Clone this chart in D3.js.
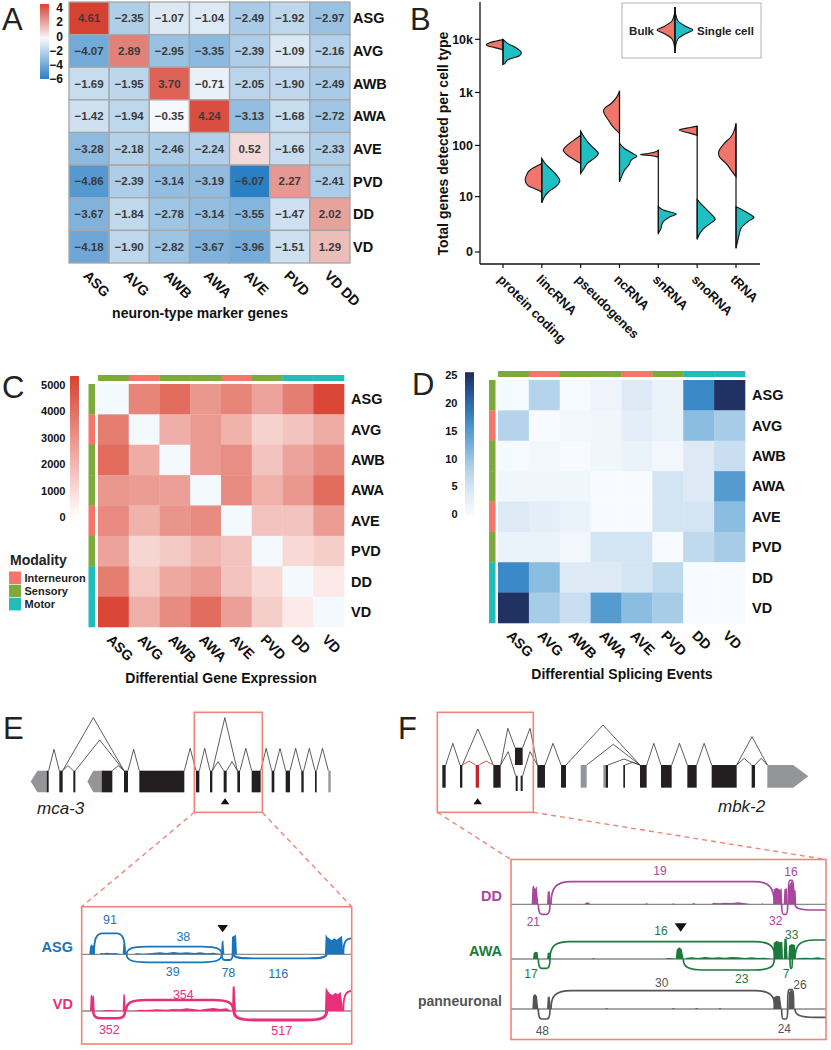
<!DOCTYPE html>
<html><head><meta charset="utf-8">
<script src="https://cdn.jsdelivr.net/npm/d3@7"></script>
<style>body{margin:0;background:#fff}svg{display:block}text{font-family:"Liberation Sans",Arial,Helvetica,sans-serif}</style>
</head><body><svg id="c" width="831" height="1050"></svg>
<script>
// ================= DATA =================
// Panel A
const neuronTypes = ["ASG","AVG","AWB","AWA","AVE","PVD","DD","VD"];
const markerGenes = ["ASG","AVG","AWB","AWA","AVE","PVD","VD DD"];
const markerScores = [
  [4.61,-2.35,-1.07,-1.04,-2.49,-1.92,-2.97],
  [-4.07,2.89,-2.95,-3.35,-2.39,-1.09,-2.16],
  [-1.69,-1.95,3.70,-0.71,-2.05,-1.90,-2.49],
  [-1.42,-1.94,-0.35,4.24,-3.13,-1.68,-2.72],
  [-3.28,-2.18,-2.46,-2.24,0.52,-1.66,-2.33],
  [-4.86,-2.39,-3.14,-3.19,-6.07,2.27,-2.41],
  [-3.67,-1.84,-2.78,-3.14,-3.55,-1.47,2.02],
  [-4.18,-1.90,-2.82,-3.67,-3.96,-1.51,1.29]
];
const scoreTicks = [4,2,0,-2,-4,-6];

// Panel B  ([genes detected, density])
const rnaTypes = ["protein coding","lincRNA","pseudogenes","ncRNA","snRNA","snoRNA","tRNA"];
const geneTicks = [0,10,100,1000,10000];
const geneTickLabels = ["0","10","100","1k","10k"];
const bulkDensity = [
  [[9860,0],[9300,20],[8650,40],[7940,50],[7500,45],[6980,25],[6490,5],[6210,0]],
  [[45.2,0],[32.7,38],[26.9,46],[21.5,50],[17.1,43],[14.7,23],[12.6,3],[11.6,0]],
  [[156,0],[126,20],[101,40],[81.3,52],[65.4,40],[54,20],[45.2,0]],
  [[1071,0],[826,8],[619,25],[499,45],[432,48],[348,40],[280,30],[226,20],[181,5],[168,0]],
  [[81.3,0],[75.6,8],[70.3,30],[67.2,54],[63.4,20],[59.8,0]],
  [[232,0],[219,20],[195,54],[176,30],[156,0]],
  [[261,0],[195,5],[146,15],[109,35],[75.6,52],[60.7,50],[45.2,30],[33.7,15],[25,0]]
];
const singleCellDensity = [
  [[10000,0],[8300,15],[7180,35],[6210,50],[5620,55],[4860,48],[4460,30],[4030,12],[3490,5],[3340,0]],
  [[56.4,0],[45.2,10],[36.2,25],[29.0,40],[20.9,54],[15.9,42],[12.6,20],[9.9,8],[7.4,0]],
  [[186,0],[146,10],[109,25],[87.5,40],[70.3,53],[56.4,40],[45.2,20],[36.2,10],[29,0]],
  [[109,0],[87.5,15],[70.3,40],[62.5,52],[52.4,35],[42,28],[33.7,15],[26.9,8],[19.9,0]],
  [[6.1,0],[5.15,15],[4.17,54],[3.61,35],[2.71,15],[2.21,10],[1.78,8],[1.24,0]],
  [[8.75,0],[7.2,10],[5.6,25],[3.95,45],[3.11,54],[2.45,40],[1.78,20],[1.24,8],[0.73,0]],
  [[6.1,0],[5.15,20],[3.95,45],[3.48,54],[2.71,35],[1.78,15],[0.94,8],[0.17,0]]
];
const seriesNames = ["Bulk","Single cell"];

// Panels C, D
const cellTypes = ["ASG","AVG","AWB","AWA","AVE","PVD","DD","VD"];
const modality = ["Sensory","Interneuron","Sensory","Sensory","Interneuron","Sensory","Motor","Motor"];
const modalityNames = ["Interneuron","Sensory","Motor"];
const degCounts = [
  [0,3330,4030,2790,3330,2440,3530,5150],
  [3560,0,2120,2710,1970,1060,1470,2180],
  [4030,2180,0,2710,3060,1470,2440,3150],
  [2790,2650,2560,0,3150,2030,2790,4030],
  [3180,1970,2850,3150,0,1470,1470,2620],
  [2440,940,1350,1880,1470,0,850,1200],
  [3560,1350,2290,2710,1470,850,0,350],
  [5150,2060,3120,4030,2560,1200,350,0]
];
const degTicks = [0,1000,2000,3000,4000,5000];
const splicingEvents = [
  [0.3,8,0.3,1.5,4,2,17,25],
  [8,0,1,1.2,3,2,11,9],
  [0.3,1,0,1.2,2,1,4,6],
  [1.2,1.2,1.2,0,0,5,4,15],
  [4,3,2,0,0,5,5,11],
  [2,2,1,5,5,0,7,9],
  [17,11,4,4,5,7,0,0],
  [25,9,6,15,11,9,0,0]
];
const splicingTicks = [0,5,10,15,20,25];

// Panel E: mca-3 gene model (genomic units)
const exonsE = [[140,146],[178,188],[220,226],[305,337],[372,384],[418,553],[588,598],[630,637],[671,680],[712,720],[755,782],[815,823],[857,870],[904,911],[945,950]];
const utrE = [{s:92,e:140,dir:-1},{s:262,e:305,dir:-1},{s:985,e:992,dir:0}];
const intronsE = [[146,178,133],[188,220,182],[188,372,38],[226,372,105],[337,372,182],[384,418,133],[553,588,130],[598,630,130],[637,671,170],[680,712,170],[637,712,38],[720,755,130],[782,815,130],[823,857,130],[870,904,130],[911,945,130],[950,985,130]];
const skippedE = 675;
const zoomE = [583,787];
// sashimi E
const sashimiE = [
  {name:"ASG", color:"#1b75bb",
   coverage:[[20,0],[28,0],[30,22],[34,30],[38,26],[42,28],[44,0],[60,0],[62,4],[70,3],[80,5],[95,3],[105,4],[118,2],[126,0],[128,0],[130,30],[134,32],[138,0],[160,0],[170,3],[190,2],[215,4],[240,6],[260,4],[280,7],[300,5],[320,6],[345,4],[360,6],[380,3],[400,5],[418,2],[423,0],[425,38],[430,42],[433,0],[455,0],[456,52],[462,56],[468,58],[471,0],[600,0],[735,0],[737,60],[742,52],[750,46],[756,42],[762,48],[770,44],[778,50],[786,56],[790,0],[825,0]],
   junctions:[{s:42,e:135,n:91,side:1,h:63,lx:90,ly:45},{s:140,e:425,n:38,side:1,h:23,lx:310,ly:95},{s:140,e:425,n:39,side:-1,h:24,lx:278,ly:200},{s:425,e:458,n:78,side:-1,h:17,lx:445,ly:202},{s:460,e:740,n:116,side:-1,h:12,lx:595,ly:205},{s:790,e:880,side:1,h:48}]},
  {name:"VD", color:"#e8307a",
   coverage:[[20,0],[30,0],[32,45],[35,50],[38,42],[42,48],[44,0],[60,0],[80,3],[100,2],[126,0],[128,0],[130,48],[134,52],[138,0],[160,0],[180,4],[200,3],[230,5],[260,4],[280,6],[300,5],[320,8],[340,6],[360,4],[380,7],[400,9],[420,6],[440,8],[454,0],[456,0],[458,72],[464,75],[468,0],[735,0],[737,72],[742,62],[750,52],[758,48],[766,55],[774,50],[782,58],[790,0],[825,0]],
   junctions:[{s:40,e:135,n:352,side:-1,h:22,lx:88,ly:375},{s:138,e:460,n:354,side:1,h:33,lx:310,ly:268},{s:462,e:740,n:517,side:-1,h:27,lx:605,ly:378},{s:790,e:880,side:1,h:60}]}
];
const sashimiEBase = [148,318];
const markerE = 428;

// Panel F: mbk-2 gene model
const exonsF = [{s:37,e:47},{s:90,e:97},{s:137,e:147,t:"red"},{s:190,e:212},{s:255,e:278,lv:1},{s:257,e:263,lv:-1},{s:272,e:278,lv:-1},{s:322,e:345},{s:393,e:408},{s:452,e:470,t:"gray"},{s:520,e:527,t:"gray"},{s:527,e:534},{s:580,e:585},{s:630,e:650},{s:693,e:725},{s:772,e:800},{s:845,e:920},{s:965,e:975}];
const utrF = [{s:1012,e:1135,dir:1}];
const intronsF = [[47,90,115],[97,190,72],[97,137,168,"red"],[147,190,168,"red"],[212,255,70,0,1],[212,257,140,0,-1],[278,322,70,1,0],[278,322,140,-1,0],[345,393,115],[408,630,60],[470,630,118],[534,630,162],[585,630,172],[650,693,115],[725,772,115],[800,845,115],[920,1012,95],[920,965,160],[975,1012,160]];
const skippedF = 143;
const zoomF = [22,310];
const sashimiF = [
  {name:"DD", color:"#a8479d",
   coverage:[[18,0],[80,0],[82,50],[86,58],[90,45],[95,55],[100,0],[126,0],[128,38],[134,40],[138,0],[238,0],[242,5],[250,6],[256,0],[420,0],[425,4],[430,0],[500,0],[505,3],[510,0],[560,0],[565,4],[575,0],[620,0],[625,5],[640,3],[660,5],[680,4],[700,6],[720,3],[740,0],[770,0],[772,4],[775,0],[805,0],[806,45],[815,50],[825,44],[830,48],[832,0],[836,0],[838,45],[846,48],[848,0],[850,0],[852,55],[858,68],[862,70],[866,45],[872,40],[874,0],[960,0]],
   junctions:[{s:100,e:135,n:21,side:-1,h:30,lx:85,ly:200},{s:138,e:808,n:19,side:1,h:68,lx:465,ly:48},{s:830,e:848,n:32,side:-1,h:30,lx:812,ly:198},{s:850,e:866,n:16,side:1,h:72,lx:858,ly:50},{s:870,e:1100,side:-1,h:17}]},
  {name:"AWA", color:"#1d7a3d",
   coverage:[[18,0],[84,0],[86,18],[92,22],[98,20],[100,0],[126,0],[128,18],[134,20],[136,0],[260,0],[265,3],[270,0],[480,0],[490,3],[500,2],[512,0],[515,28],[522,35],[530,30],[536,0],[540,0],[545,4],[560,5],[580,3],[600,6],[620,4],[640,5],[660,4],[680,6],[700,5],[720,3],[740,5],[760,3],[780,4],[800,0],[805,0],[806,48],[815,55],[825,50],[832,52],[834,0],[836,0],[838,60],[845,62],[848,0],[850,0],[852,40],[860,45],[870,42],[872,0],[880,3],[900,4],[920,3],[940,5],[960,0]],
   junctions:[{s:100,e:135,n:17,side:-1,h:28,lx:78,ly:355},{s:135,e:810,n:16,side:1,h:52,lx:468,ly:228},{s:535,e:808,n:23,side:-1,h:33,lx:710,ly:372},{s:855,e:862,n:7,side:-1,h:28,lx:843,ly:357},{s:870,e:1100,n:33,side:1,h:57,lx:860,ly:238}]},
  {name:"panneuronal", color:"#555555",
   coverage:[[18,0],[82,0],[84,40],[90,45],[96,38],[100,0],[126,0],[128,35],[134,38],[138,0],[300,0],[305,3],[310,0],[500,0],[505,3],[510,0],[570,0],[575,4],[580,0],[640,0],[645,3],[650,0],[805,0],[806,35],[815,40],[825,38],[830,0],[850,0],[852,50],[858,58],[864,52],[866,0],[960,0]],
   junctions:[{s:100,e:135,n:48,side:-1,h:30,lx:112,ly:528},{s:138,e:810,n:30,side:1,h:55,lx:470,ly:382},{s:830,e:848,n:24,side:-1,h:30,lx:838,ly:522},{s:848,e:866,n:26,side:1,h:58,lx:885,ly:388},{s:870,e:1100,side:-1,h:25}]}
];
const sashimiFBase = [148,312,462];
const markerF = 527;

// ================= DRAW =================
const svg = d3.select("#c");
const defs = svg.append("defs");

function panelLetter(t,x,y){ svg.append("text").attr("x",x).attr("y",y).attr("font-size",31).attr("fill","#222").text(t); }
function rotLabels(g, labels, xpos, y0, size){
  labels.forEach(l => g.append("text")
    .attr("transform",`translate(${xpos(l)},${y0}) rotate(45)`)
    .attr("dy","0.35em").attr("font-size",size).attr("font-weight","bold").attr("fill","#111").text(l));
}
function vGradient(id, scale, lo, hi){
  const lg = defs.append("linearGradient").attr("id",id).attr("x1",0).attr("x2",0).attr("y1",1).attr("y2",0);
  d3.range(0,1.0001,0.05).forEach(t => lg.append("stop").attr("offset",t).attr("stop-color",scale(lo+(hi-lo)*t)));
}

// ---------- Panel A ----------
panelLetter("A",2,30);
const gA = svg.append("g");
const xA = d3.scaleBand().domain(markerGenes).range([69,350]);
const yA = d3.scaleBand().domain(neuronTypes).range([2,263]);
const colA = d3.scaleLinear().domain([-6.1,-0.3,4.65]).range(["#2a7fc4","#f7f9fc","#d73f30"]);
const fmtA = d3.format(".2f");
neuronTypes.forEach((r,i) => markerGenes.forEach((c,j) => {
  const v = markerScores[i][j];
  gA.append("rect").attr("x",xA(c)).attr("y",yA(r)).attr("width",xA.bandwidth()).attr("height",yA.bandwidth())
    .attr("fill",colA(v)).attr("stroke","#a6a6a6").attr("stroke-width",1.3);
  gA.append("text").attr("x",xA(c)+xA.bandwidth()/2).attr("y",yA(r)+yA.bandwidth()/2).attr("dy","0.35em")
    .attr("text-anchor","middle").attr("font-size",11.5).attr("font-weight","bold").attr("fill","#3b3b3b").text(fmtA(v));
}));
neuronTypes.forEach(r => gA.append("text").attr("x",353).attr("y",yA(r)+yA.bandwidth()/2).attr("dy","0.35em")
  .attr("font-size",14.5).attr("font-weight","bold").attr("fill","#111").text(r));
rotLabels(gA, markerGenes, c => xA(c)+xA.bandwidth()/2-3, 273, 14);
gA.append("text").attr("x",200).attr("y",318).attr("text-anchor","middle").attr("font-size",14).attr("font-weight","bold").attr("fill","#111").text("neuron-type marker genes");
const cbA = d3.scaleLinear().domain([-6,4]).range([79,8]);
vGradient("gA", colA, -6.07, 4.56);
gA.append("rect").attr("x",40).attr("y",cbA(4.56)).attr("width",9).attr("height",cbA(-6)-cbA(4.56)).attr("fill","url(#gA)");
const fmtTick = d3.format("d");
scoreTicks.forEach(t => gA.append("text").attr("x",63).attr("y",cbA(t)).attr("dy","0.35em").attr("text-anchor","end")
  .attr("font-size",12).attr("font-weight","bold").attr("fill","#111").text(fmtTick(t)));

// ---------- Panel B ----------
panelLetter("B",410,30);
const gB = svg.append("g");
const xB = d3.scalePoint().domain(rnaTypes).range([503,736]);
const yB = d3.scaleSymlog().constant(1).domain([0,10000]).range([252,39.3]);
const wB = d3.scaleLinear().domain([0,54]).range([0,18]);
const bulkCol = "#f0766b", scCol = "#1fbfc4";
gB.append("line").attr("x1",480).attr("x2",480).attr("y1",2).attr("y2",264).attr("stroke","#111").attr("stroke-width",1.3);
gB.append("line").attr("x1",480).attr("x2",760).attr("y1",264).attr("y2",264).attr("stroke","#111").attr("stroke-width",1.3);
geneTicks.forEach((t,i) => {
  gB.append("line").attr("x1",475).attr("x2",480).attr("y1",yB(t)).attr("y2",yB(t)).attr("stroke","#111").attr("stroke-width",1.2);
  gB.append("text").attr("x",473).attr("y",yB(t)).attr("dy","0.35em").attr("text-anchor","end").attr("font-size",12.5).attr("font-weight","bold").attr("fill","#111").text(geneTickLabels[i]);
});
rnaTypes.forEach(c => gB.append("line").attr("x1",xB(c)).attr("x2",xB(c)).attr("y1",264).attr("y2",268).attr("stroke","#111").attr("stroke-width",1.2));
rotLabels(gB, rnaTypes, c => xB(c)-3, 277, 13);
gB.append("text").attr("transform","translate(443,143.5) rotate(-90)").attr("text-anchor","middle").attr("dy","0.35em")
  .attr("font-size",14).attr("font-weight","bold").attr("fill","#111").text("Total genes detected per cell type");
const curveV = d3.curveCatmullRom.alpha(0.5);
rnaTypes.forEach((c,i) => {
  const cx = xB(c);
  const all = bulkDensity[i].concat(singleCellDensity[i]).map(d=>d[0]);
  const bulkArea = d3.area().curve(curveV).y(d=>yB(d[0])).x0(cx).x1(d=>cx-wB(d[1]));
  const scArea = d3.area().curve(curveV).y(d=>yB(d[0])).x0(cx).x1(d=>cx+wB(d[1]));
  gB.append("path").attr("d",bulkArea(bulkDensity[i])).attr("fill",bulkCol).attr("stroke","#111").attr("stroke-width",1.1);
  gB.append("path").attr("d",scArea(singleCellDensity[i])).attr("fill",scCol).attr("stroke","#111").attr("stroke-width",1.1);
  gB.append("line").attr("x1",cx).attr("x2",cx).attr("y1",yB(d3.max(all))).attr("y2",yB(d3.min(all))).attr("stroke","#111").attr("stroke-width",1.2);
});
// legend
gB.append("rect").attr("x",622).attr("y",3).attr("width",139).attr("height",55).attr("fill","#fff").attr("stroke","#b0b0b0").attr("stroke-width",1);
gB.append("text").attr("x",654).attr("y",31).attr("dy","0.35em").attr("text-anchor","end").attr("font-size",11.5).attr("font-weight","bold").attr("fill","#222").text(seriesNames[0]);
gB.append("text").attr("x",697).attr("y",31).attr("dy","0.35em").attr("font-size",11.5).attr("font-weight","bold").attr("fill","#222").text(seriesNames[1]);
const keyShape = [[-23,0],[-16,0.6],[-9,3],[-3,12],[0,18],[3,12],[9,3],[16,0.6],[23,0]];
const lk = d3.area().curve(curveV).y(d=>30+d[0]).x0(675);
gB.append("path").attr("d",lk.x1(d=>675-d[1])(keyShape)).attr("fill",bulkCol).attr("stroke","#111").attr("stroke-width",1.1);
gB.append("path").attr("d",lk.x1(d=>675+d[1])(keyShape)).attr("fill",scCol).attr("stroke","#111").attr("stroke-width",1.1);
gB.append("line").attr("x1",675).attr("x2",675).attr("y1",7).attr("y2",53).attr("stroke","#111").attr("stroke-width",1.2);

// ---------- Modality colors ----------
const modCol = d3.scaleOrdinal().domain(modalityNames).range(["#f4766b","#7cab3c","#22bdbb"]);

function heatPanel(g, values, x0, x1, y0, y1, color, topY, leftX, labelX, labelY0){
  const xs = d3.scaleBand().domain(cellTypes).range([x0,x1]);
  const ys = d3.scaleBand().domain(cellTypes).range([y0,y1]);
  cellTypes.forEach((r,i)=>cellTypes.forEach((c,j)=>{
    g.append("rect").attr("x",xs(c)).attr("y",ys(r)).attr("width",xs.bandwidth()+0.3).attr("height",ys.bandwidth()+0.3).attr("fill",color(values[i][j]));
  }));
  cellTypes.forEach((c,j)=>{
    g.append("rect").attr("x",xs(c)).attr("y",topY).attr("width",xs.bandwidth()+0.3).attr("height",6).attr("fill",modCol(modality[j]));
    g.append("rect").attr("x",leftX).attr("y",ys(c)).attr("width",6.5).attr("height",ys.bandwidth()+0.3).attr("fill",modCol(modality[j]));
    g.append("text").attr("x",labelX).attr("y",ys(c)+ys.bandwidth()/2).attr("dy","0.35em").attr("font-size",14.5).attr("font-weight","bold").attr("fill","#111").text(c);
  });
  rotLabels(g, cellTypes, c => xs(c)+xs.bandwidth()/2-4, labelY0, 14);
}

// ---------- Panel C ----------
panelLetter("C",2,398);
const gC = svg.append("g");
const colC = d3.scaleLinear().domain([0,200,5330]).range(["#f4f9fd","#fcefee","#d9412f"]);
heatPanel(gC, degCounts, 98, 344, 384, 627, colC, 375, 88.5, 351, 637);
gC.append("text").attr("x",221).attr("y",683).attr("text-anchor","middle").attr("font-size",14).attr("font-weight","bold").attr("fill","#111").text("Differential Gene Expression");
const cbC = d3.scaleLinear().domain([0,5000]).range([517.5,385]);
vGradient("gC", d3.scaleLinear().domain([0,5340]).range(["#ffffff","#d9412f"]), 0, 5340);
gC.append("rect").attr("x",70).attr("y",cbC(5340)).attr("width",9).attr("height",cbC(0)-cbC(5340)).attr("fill","url(#gC)");
degTicks.forEach(t => gC.append("text").attr("x",65.5).attr("y",cbC(t)).attr("dy","0.35em").attr("text-anchor","end").attr("font-size",11).attr("font-weight","bold").attr("fill","#111").text(t));
// modality legend
gC.append("text").attr("x",10).attr("y",565).attr("font-size",14).attr("font-weight","bold").attr("fill","#222").text("Modality");
modalityNames.forEach((m,i)=>{
  gC.append("rect").attr("x",9).attr("y",571.5+i*13.2).attr("width",12).attr("height",12.5).attr("fill",modCol(m));
  gC.append("text").attr("x",24.5).attr("y",578+i*13.2).attr("dy","0.35em").attr("font-size",11).attr("font-weight","bold").attr("fill","#222").text(m);
});

// ---------- Panel D ----------
panelLetter("D",412,395);
const gD = svg.append("g");
const colD = d3.scaleLinear().domain([0,4,8,12,17,21,25]).range(["#f7fbff","#dde9f5","#b5d3ea","#7db5dc","#3b89c6","#2a5fa0","#1f3262"]);
heatPanel(gD, splicingEvents, 498, 745, 380, 623, colD, 371, 489, 752, 633);
gD.append("text").attr("x",622).attr("y",679).attr("text-anchor","middle").attr("font-size",14).attr("font-weight","bold").attr("fill","#111").text("Differential Splicing Events");
const cbD = d3.scaleLinear().domain([0,25]).range([514.5,375]);
vGradient("gD", colD, 0, 25.5);
gD.append("rect").attr("x",465).attr("y",cbD(25.5)).attr("width",9).attr("height",cbD(0)-cbD(25.5)).attr("fill","url(#gD)");
splicingTicks.forEach(t => gD.append("text").attr("x",457.5).attr("y",cbD(t)).attr("dy","0.35em").attr("text-anchor","end").attr("font-size",11).attr("font-weight","bold").attr("fill","#111").text(t));

// ---------- Gene models ----------
const BOX = "#f08478";
function drawGene(g, xs, ys, exons, utrs, introns, levels){
  const top = lv => ys(levels[lv][0]);
  introns.forEach(d => {
    const s = d[0], e = d[1], pk = d[2];
    const sL = (typeof d[3]==="number") ? d[3] : 0;
    const eL = (typeof d[3]==="number") ? d[4] : 0;
    const isRed = d[3]==="red";
    g.append("path").attr("d",`M${xs(s)},${top(sL)}L${xs((s+e)/2)},${ys(pk)}L${xs(e)},${top(eL)}`)
      .attr("fill","none").attr("stroke",isRed?"#c1272d":"#333").attr("stroke-width",0.8);
  });
  utrs.forEach(u => {
    const t = ys(levels[0][0]), b = ys(levels[0][1]), m = (t+b)/2;
    let p;
    if (u.dir===-1){ const sh = xs(u.s)+ (xs(u.e)-xs(u.s))*0.42;
      p = `M${xs(u.s)},${m}L${sh},${t}L${xs(u.e)},${t}L${xs(u.e)},${b}L${sh},${b}Z`; }
    else if (u.dir===1){ const sh = xs(u.e) - (xs(u.e)-xs(u.s))*0.37;
      p = `M${xs(u.s)},${t}L${sh},${t}L${xs(u.e)},${m}L${sh},${b}L${xs(u.s)},${b}Z`; }
    else p = `M${xs(u.s)},${t}L${xs(u.e)},${t}L${xs(u.e)},${b}L${xs(u.s)},${b}Z`;
    g.append("path").attr("d",p).attr("fill","#939598");
  });
  exons.forEach(ex => {
    const o = Array.isArray(ex) ? {s:ex[0],e:ex[1]} : ex;
    const lv = levels[o.lv||0];
    g.append("rect").attr("x",xs(o.s)).attr("y",ys(lv[0])).attr("width",xs(o.e)-xs(o.s)).attr("height",ys(lv[1])-ys(lv[0]))
      .attr("fill", o.t==="red" ? "#c1272d" : o.t==="gray" ? "#939598" : "#231f20");
  });
}
function triangle(g, x, y1, y2, up){
  const h = y2-y1, w = h*1.45;
  const p = up ? `M${x},${y1}L${x+w/2},${y2}L${x-w/2},${y2}Z` : `M${x-w/2},${y1}L${x+w/2},${y1}L${x},${y2}Z`;
  g.append("path").attr("d",p).attr("fill","#111");
}
function arcPath(x1,x2,y0,y1){
  const w = x2-x1, r = Math.min(w*0.28, 20);
  return `M${x1},${y0}C${x1},${y0+(y1-y0)*0.75} ${x1+r*0.25},${y1} ${x1+r},${y1}L${x2-r},${y1}C${x2-r*0.25},${y1} ${x2},${y0+(y1-y0)*0.75} ${x2},${y0}`;
}
function drawSashimi(g, tracks, bases, xs, ys, box, clipId, jw, fontSize){
  defs.append("clipPath").attr("id",clipId).append("rect").attr("x",box[0]).attr("y",box[1]).attr("width",box[2]).attr("height",box[3]);
  const gc = g.append("g").attr("clip-path",`url(#${clipId})`);
  tracks.forEach((tr,i) => {
    const b = ys(bases[i]);
    gc.append("line").attr("x1",box[0]).attr("x2",box[0]+box[2]).attr("y1",b).attr("y2",b).attr("stroke","#8a8a8a").attr("stroke-width",1.3);
    const area = d3.area().x(d=>xs(d[0])).y0(b).y1(d=>b - d[1]/3);
    gc.append("path").attr("d",area(tr.coverage)).attr("fill",tr.color);
    tr.junctions.forEach(j => {
      const y1 = b - j.side*j.h/3;
      gc.append("path").attr("d",arcPath(xs(j.s),xs(j.e),b,y1)).attr("fill","none").attr("stroke",tr.color)
        .attr("stroke-width", jw(j.n||100));
      if (j.n!==undefined) g.append("text").attr("x",xs(j.lx)).attr("y",ys(j.ly)).attr("dy","0.35em").attr("text-anchor","middle")
        .attr("font-size",fontSize).attr("fill",tr.color).text(j.n);
    });
  });
}

// ---------- Panel E ----------
panelLetter("E",3,739);
const gE = svg.append("g");
const xE = d3.scaleLinear().domain([0,1020]).range([0,340]);
const yE = d3.scaleLinear().domain([0,330]).range([705,815]);
drawGene(gE, xE, yE, exonsE, utrE, intronsE, {0:[197,262]});
triangle(gE, xE(skippedE), yE(280), yE(298), true);
gE.append("text").attr("x",37).attr("y",814).attr("font-size",17).attr("font-style","italic").attr("fill","#222").text("mca-3");
gE.append("rect").attr("x",xE(zoomE[0])).attr("y",yE(22)).attr("width",xE(zoomE[1])-xE(zoomE[0])).attr("height",yE(322)-yE(22)).attr("fill","none").attr("stroke",BOX).attr("stroke-width",1.6);
const boxE = [81.7,906.7,270,137.3];
gE.append("line").attr("x1",xE(zoomE[0])).attr("y1",yE(322)).attr("x2",boxE[0]).attr("y2",boxE[1]).attr("stroke",BOX).attr("stroke-width",1.4).attr("stroke-dasharray","5,4");
gE.append("line").attr("x1",xE(zoomE[1])).attr("y1",yE(322)).attr("x2",boxE[0]+boxE[2]).attr("y2",boxE[1]).attr("stroke",BOX).attr("stroke-width",1.4).attr("stroke-dasharray","5,4");
const xSE = d3.scaleLinear().domain([0,825]).range([80,355]);
const ySE = d3.scaleLinear().domain([0,435]).range([905,1050]);
drawSashimi(gE, sashimiE, sashimiEBase, xSE, ySE, boxE, "clipE", n => Math.min(1.6 + n/400, 3), 12.5);
gE.append("rect").attr("x",boxE[0]).attr("y",boxE[1]).attr("width",boxE[2]).attr("height",boxE[3]).attr("fill","none").attr("stroke",BOX).attr("stroke-width",1.6);
triangle(gE, xSE(markerE), ySE(60), ySE(82), false);
sashimiE.forEach((tr,i) => gE.append("text").attr("x",73).attr("y",ySE(sashimiEBase[i])-7.5).attr("dy","0.35em").attr("text-anchor","end")
  .attr("font-size",14.5).attr("font-weight","bold").attr("fill",tr.color).text(tr.name));

// ---------- Panel F ----------
panelLetter("F",398,739);
const gF = svg.append("g");
const xF = d3.scaleLinear().domain([0,1200]).range([430,830]);
const yF = yE;
drawGene(gF, xF, yF, exonsF, utrF, intronsF, {0:[180,248],1:[128,180],"-1":[212,258]});
triangle(gF, xF(skippedF), yF(280), yF(298), true);
gF.append("text").attr("x",718).attr("y",812).attr("font-size",17).attr("font-style","italic").attr("fill","#222").text("mbk-2");
gF.append("rect").attr("x",xF(zoomF[0])).attr("y",yF(22)).attr("width",xF(zoomF[1])-xF(zoomF[0])).attr("height",yF(322)-yF(22)).attr("fill","none").attr("stroke",BOX).attr("stroke-width",1.6);
const boxF = [511,859.5,315,180];
gF.append("line").attr("x1",xF(zoomF[0])).attr("y1",yF(322)).attr("x2",boxF[0]).attr("y2",boxF[1]).attr("stroke",BOX).attr("stroke-width",1.4).attr("stroke-dasharray","5,4");
gF.append("line").attr("x1",xF(zoomF[1])).attr("y1",yF(322)).attr("x2",boxF[0]+boxF[2]).attr("y2",boxF[1]).attr("stroke",BOX).attr("stroke-width",1.4).attr("stroke-dasharray","5,4");
const xSF = d3.scaleLinear().domain([0,978]).range([505,831]);
const ySF = d3.scaleLinear().domain([0,585]).range([855,1050]);
drawSashimi(gF, sashimiF, sashimiFBase, xSF, ySF, boxF, "clipF", n => 1.7, 12);
gF.append("rect").attr("x",boxF[0]).attr("y",boxF[1]).attr("width",boxF[2]).attr("height",boxF[3]).attr("fill","none").attr("stroke",BOX).attr("stroke-width",1.6);
triangle(gF, xSF(markerF), ySF(205), ySF(230), false);
sashimiF.forEach((tr,i) => gF.append("text").attr("x",502).attr("y",ySF(sashimiFBase[i])-8).attr("dy","0.35em").attr("text-anchor","end")
  .attr("font-size",tr.name.length>5?14:14.5).attr("font-weight","bold").attr("fill",tr.color).text(tr.name));
</script></body></html>
